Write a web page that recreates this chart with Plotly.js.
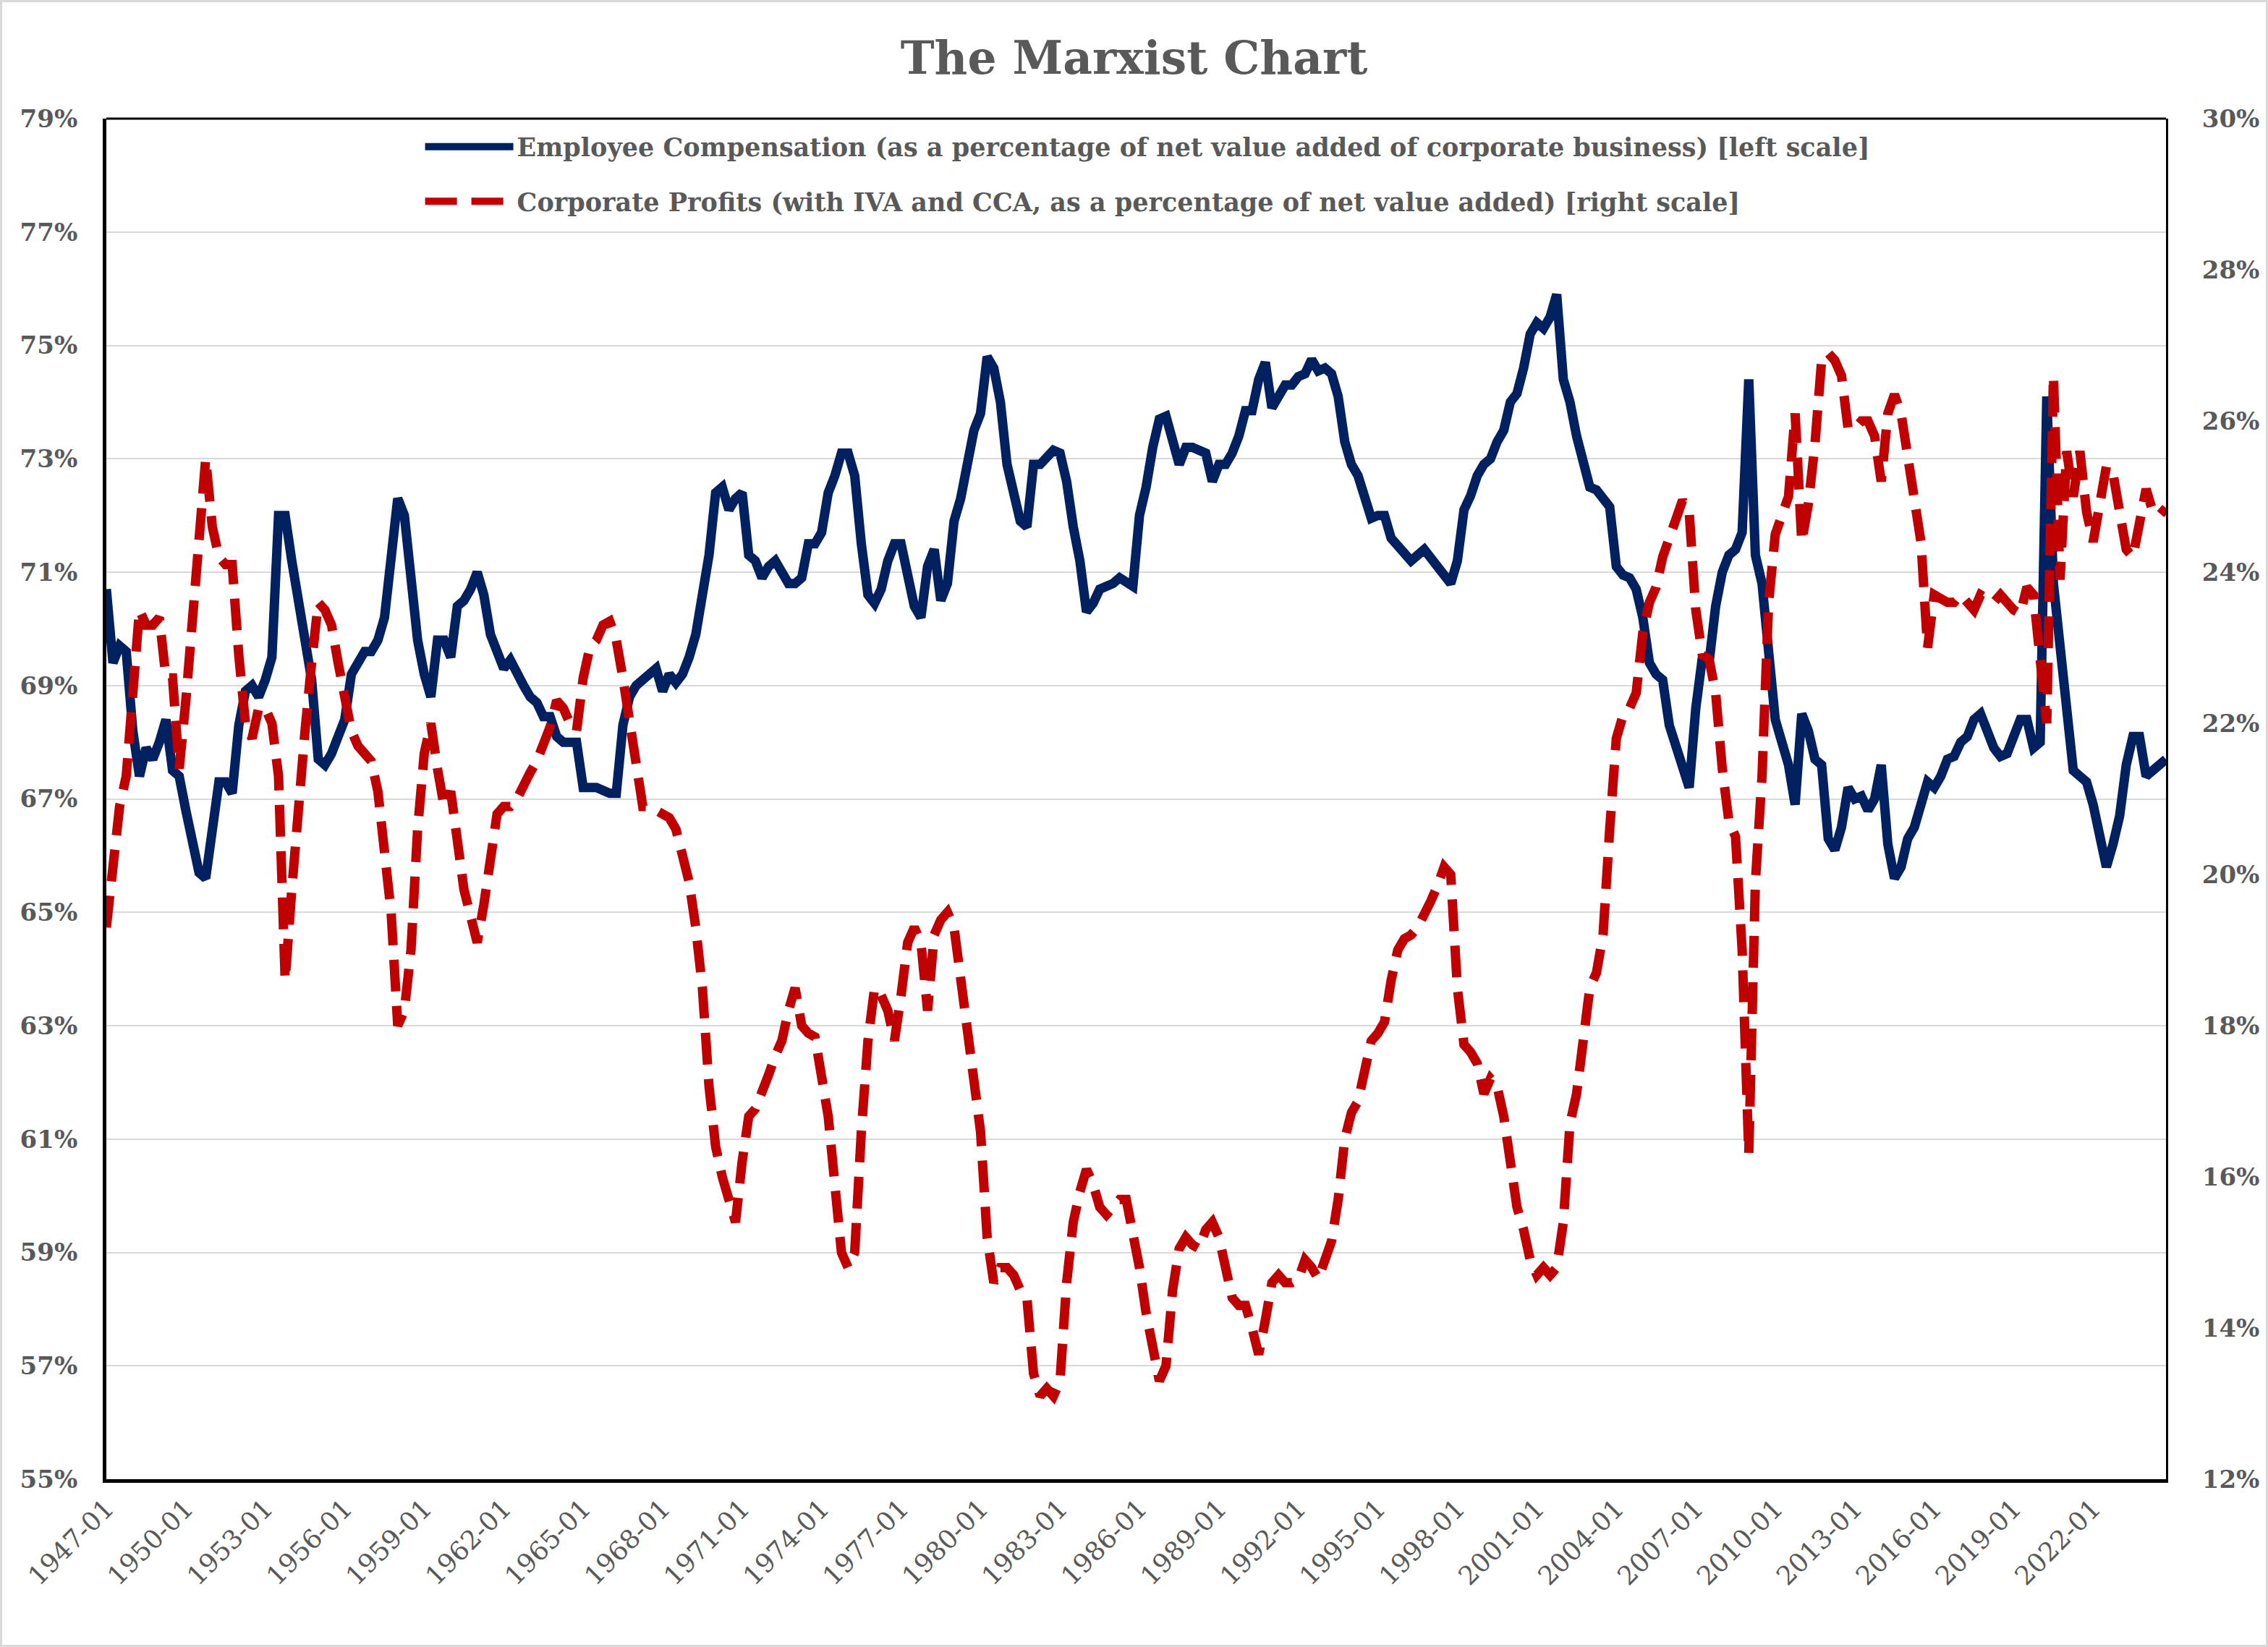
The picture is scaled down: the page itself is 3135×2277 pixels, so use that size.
<!DOCTYPE html>
<html>
<head>
<meta charset="utf-8">
<script src="https://cdn.plot.ly/plotly-3.0.1.min.js"></script>
<style>
  html, body { margin: 0; padding: 0; background: #ffffff; }
  #frame { width: 3135px; height: 2277px; box-sizing: border-box; border: 3px solid #d9d9d9; background: #ffffff; }
  #chart { width: 3129px; height: 2271px; }
</style>
</head>
<body>
<div id="frame"><div id="chart"></div></div>
<script>
// Quarterly observations, 1947-01 .. 2024-10
const startYear = 1947;
const endYear = 2024;
const quarterMonths = ["01", "04", "07", "10"];
const quarters = [];
for (let y = startYear; y <= endYear; y++) {
  for (const m of quarterMonths) quarters.push(y + "-" + m);
}

// Employee compensation, % of net value added of corporate business (left scale)
const compensation = [
  70.7,69.4,69.7,69.6,68.2,67.4,67.9,67.7,68.0,68.4,67.5,67.4,
  66.8,66.2,65.7,65.6,66.5,67.3,67.3,67.1,68.3,68.9,69.0,68.8,
  69.1,69.5,72.0,72.0,71.2,70.5,69.7,69.1,67.7,67.6,67.8,68.1,
  68.4,69.2,69.4,69.6,69.6,69.8,70.2,71.3,72.3,72.0,71.0,69.8,
  69.2,68.8,69.8,69.8,69.5,70.4,70.5,70.7,71.0,70.6,69.9,69.6,
  69.3,69.45,69.2,69.0,68.8,68.7,68.45,68.45,68.1,68.0,68.0,68.0,
  67.2,67.2,67.2,67.15,67.1,67.1,68.3,68.8,69.0,69.1,69.2,69.3,
  68.9,69.2,69.05,69.2,69.5,69.9,70.6,71.3,72.4,72.5,72.1,72.3,
  72.4,71.3,71.2,70.9,71.1,71.2,71.0,70.8,70.8,70.9,71.5,71.5,
  71.7,72.4,72.7,73.1,73.1,72.7,71.5,70.6,70.45,70.7,71.2,71.5,
  71.5,71.0,70.4,70.2,71.1,71.4,70.5,70.8,71.9,72.3,72.9,73.5,
  73.8,74.8,74.6,74.0,72.9,72.4,71.9,71.8,72.9,72.9,73.0,73.15,
  73.1,72.6,71.8,71.2,70.3,70.45,70.7,70.75,70.8,70.9,70.8,70.75,
  72.0,72.5,73.2,73.7,73.75,73.3,72.9,73.2,73.2,73.15,73.1,72.6,
  72.9,72.9,73.1,73.4,73.85,73.85,74.4,74.7,73.9,74.1,74.3,74.3,
  74.45,74.5,74.75,74.55,74.6,74.5,74.1,73.3,72.9,72.7,72.3,71.95,
  72.0,72.0,71.6,71.45,71.3,71.2,71.3,71.4,71.25,71.1,70.9,70.8,
  71.2,72.1,72.35,72.7,72.9,73.0,73.3,73.5,74.0,74.15,74.6,75.2,
  75.4,75.3,75.5,75.9,74.4,74.0,73.4,72.9,72.5,72.45,72.3,72.15,
  71.1,70.95,70.9,70.7,70.2,69.4,69.2,69.1,68.3,67.9,67.6,67.2,
  68.6,69.5,69.4,70.4,71.0,71.3,71.4,71.7,74.4,71.3,70.8,69.7,
  68.4,68.0,67.6,66.9,68.5,68.2,67.7,67.6,66.3,66.1,66.5,67.2,
  67.0,67.05,66.8,67.0,67.6,66.2,65.6,65.8,66.3,66.5,66.9,67.3,
  67.2,67.4,67.7,67.75,68.0,68.1,68.4,68.5,68.2,67.9,67.75,67.8,
  68.1,68.4,68.4,67.9,68.0,74.1,70.8,69.6,68.7,67.5,67.4,67.3,
  66.9,66.3,65.8,66.2,66.7,67.6,68.1,68.1,67.4,67.5,67.6,67.7
];

// Corporate profits with IVA and CCA, % of net value added (right scale)
const profits = [
  19.3,20.2,20.9,21.3,22.4,23.5,23.3,23.3,23.4,22.6,22.6,21.4,
  22.3,23.5,24.7,25.5,24.6,24.2,24.1,24.1,22.9,22.0,21.8,22.2,
  22.2,22.0,21.3,18.6,19.8,21.0,21.9,22.8,23.6,23.5,23.3,22.8,
  22.3,21.9,21.7,21.6,21.5,21.1,20.4,19.5,18.0,18.2,19.0,20.6,
  21.6,22.0,21.4,20.9,21.1,20.5,19.8,19.45,19.1,19.6,20.3,20.8,
  20.9,20.9,21.0,21.2,21.35,21.5,21.7,21.95,22.3,22.2,22.0,21.9,
  22.6,23.0,23.1,23.3,23.35,23.1,22.6,22.0,21.3,20.9,20.9,20.85,
  20.8,20.75,20.6,20.3,19.9,19.3,18.5,17.2,16.4,16.0,15.7,15.4,
  16.2,16.8,16.9,17.1,17.35,17.6,17.8,18.2,18.5,18.0,17.9,17.85,
  17.4,16.8,15.9,15.0,14.8,15.0,16.6,17.8,18.5,18.4,18.2,17.8,
  18.4,19.1,19.3,19.1,18.2,19.2,19.4,19.5,19.3,18.6,18.0,17.4,
  16.6,15.2,14.6,14.8,14.8,14.7,14.5,14.4,13.4,13.1,13.2,13.1,
  13.3,14.6,15.4,15.8,16.1,15.9,15.6,15.5,15.6,15.7,15.7,15.3,
  14.8,14.2,13.7,13.3,13.5,14.5,15.05,15.2,15.1,15.05,15.3,15.4,
  15.2,14.8,14.4,14.3,14.3,14.0,13.65,14.1,14.6,14.7,14.6,14.6,
  14.65,14.9,14.8,14.65,14.9,15.15,15.7,16.5,16.85,17.0,17.4,17.8,
  17.9,18.05,18.6,19.0,19.15,19.2,19.3,19.45,19.65,19.85,20.1,20.0,
  18.5,17.75,17.65,17.5,17.1,17.3,17.2,16.8,16.1,15.6,15.3,14.9,
  14.7,14.8,14.7,14.8,15.4,16.7,17.1,17.8,18.5,18.7,19.2,20.6,
  21.8,22.1,22.2,22.4,23.2,23.6,23.8,24.2,24.5,24.7,24.95,24.8,
  23.5,22.9,22.85,22.4,21.4,20.7,20.5,19.0,16.3,19.9,21.3,23.6,
  24.5,24.75,25.0,26.1,24.4,24.9,25.7,26.8,26.9,26.8,26.6,25.9,
  25.9,26.0,26.0,25.8,25.2,26.1,26.35,26.1,25.5,24.9,24.4,23.0,
  23.7,23.65,23.6,23.6,23.7,23.6,23.5,23.7,23.65,23.6,23.7,23.6,
  23.5,23.45,23.8,23.7,22.8,22.0,26.6,23.9,25.6,25.0,25.6,24.8,
  24.4,24.9,25.4,25.3,24.8,24.3,24.2,24.7,25.1,24.8,24.75,24.85
];

const xTickLabels = [
  "1947-01","1950-01","1953-01","1956-01","1959-01","1962-01","1965-01",
  "1968-01","1971-01","1974-01","1977-01","1980-01","1983-01","1986-01",
  "1989-01","1992-01","1995-01","1998-01","2001-01","2004-01","2007-01",
  "2010-01","2013-01","2016-01","2019-01","2022-01"
];

const compName = "Employee Compensation (as a percentage of net value added of corporate business) [left scale]";
const profitName = "Corporate Profits (with IVA and CCA, as a percentage of net value added) [right scale]";

const gray = "#595959";
const serif = "DejaVu Serif";

const traces = [
  {
    type: "scatter", mode: "lines", name: compName,
    x: quarters, y: compensation, yaxis: "y",
    legendgroup: "a",
    line: { color: "#002060", width: 13 }
  },
  {
    type: "scatter", mode: "lines", name: profitName,
    x: quarters, y: profits, yaxis: "y2",
    legendgroup: "b",
    line: { color: "#C00000", width: 13, dash: "44px,20px" }
  }
];

const layout = {
  width: 3129, height: 2271,
  margin: { l: 144, r: 138, t: 161, b: 229, pad: 0 },
  paper_bgcolor: "#ffffff", plot_bgcolor: "#ffffff",
  title: {
    text: "<b>The Marxist Chart</b>",
    font: { family: serif, size: 63, color: gray },
    x: 0.5, xanchor: "center", xref: "container",
    y: 0.966, yanchor: "middle", yref: "container"
  },
  showlegend: true,
  legend: {
    x: 0.153, xanchor: "left", y: 0.995, yanchor: "top",
    orientation: "v",
    bgcolor: "rgba(255,255,255,0)",
    font: { family: serif, size: 35, color: gray, weight: "bold" },
    itemwidth: 122,
    tracegroupgap: 27
  },
  xaxis: {
    type: "category",
    range: [0, quarters.length - 1],
    tickmode: "array", tickvals: xTickLabels, ticktext: xTickLabels,
    tickangle: -45,
    tickfont: { family: serif, size: 36, color: gray },
    showgrid: false, zeroline: false,
    showline: true, linecolor: "#000000", linewidth: 5,
    ticks: ""
  },
  yaxis: {
    range: [55, 79], tick0: 55, dtick: 2, ticksuffix: "%",
    tickfont: { family: serif, size: 34, color: gray, weight: "bold" },
    showgrid: true, gridcolor: "#d9d9d9", gridwidth: 2,
    zeroline: false,
    showline: true, linecolor: "#000000", linewidth: 5,
    ticks: "", ticklabelstandoff: 28
  },
  yaxis2: {
    overlaying: "y", side: "right",
    range: [12, 30], tick0: 12, dtick: 2, ticksuffix: "%",
    tickfont: { family: serif, size: 34, color: gray, weight: "bold" },
    showgrid: false, zeroline: false,
    showline: true, linecolor: "#000000", linewidth: 3,
    ticks: "", ticklabelstandoff: 40
  },
  shapes: [
    { type: "line", xref: "paper", yref: "paper", x0: 0, x1: 1, y0: 1, y1: 1,
      line: { color: "#000000", width: 3 } }
  ]
};

Plotly.newPlot("chart", traces, layout, { staticPlot: true, displayModeBar: false });
</script>
</body>
</html>
